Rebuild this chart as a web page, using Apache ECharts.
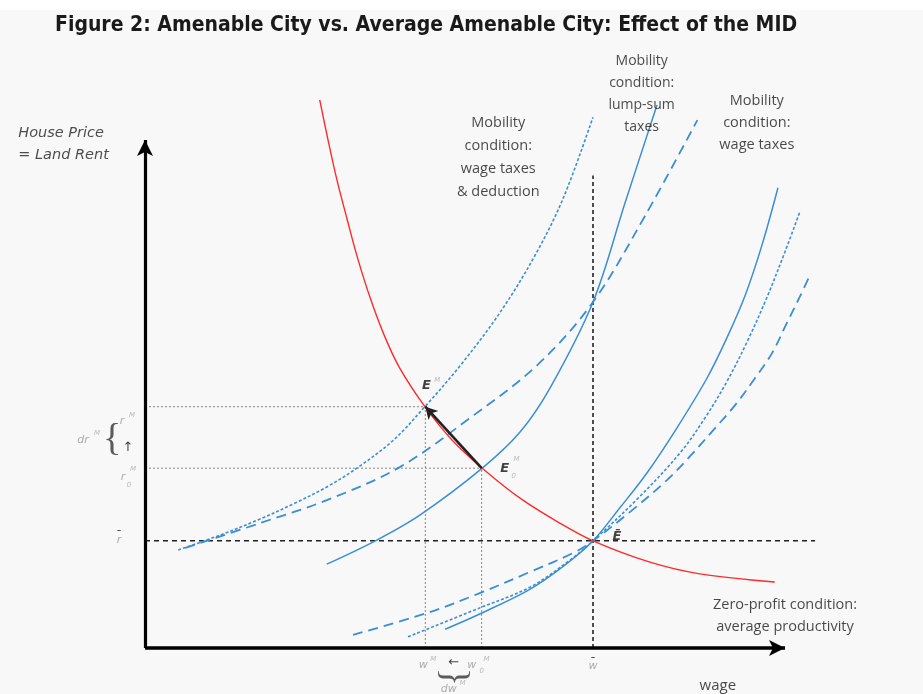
<!DOCTYPE html>
<html>
<head>
<meta charset="utf-8">
<script src="https://cdn.jsdelivr.net/npm/echarts@6/dist/echarts.min.js"></script>
<style>
html,body{margin:0;padding:0;background:#f8f8f8;}
#c{width:923px;height:694px;}
</style>
</head>
<body>
<div id="c"></div>
<script>
// ---------- key equilibrium values (wage, rent) ----------
const wBar = 70, rBar = 21.1;      // average amenable city equilibrium E
const wM = 43.8, rM = 47.5;        // E^M
const w0M = 52.6, r0M = 35.4;      // E0^M
const axisEndW = 100, axisEndR = 100;
const rBarLineEnd = 104.7, wBarLineTop = 93;

// ---------- curves: [wage, rent] ----------
const zeroProfit = [[27.3,107.9],[28.6,100.0],[30.0,92.1],[31.6,84.3],[33.3,76.4],[35.3,68.5],[37.5,61.2],[39.8,55.1],[43.8,47.4],[48.0,40.9],[52.7,35.4],[58.6,29.5],[64.8,24.6],[70.0,21.1],[78.9,16.9],[86.7,14.6],[98.4,13.0]];
// Mobility condition: wage taxes & deduction (through E^M)
const mobDeduction = [[5.2,19.3],[11.7,22.2],[18.0,25.4],[23.4,28.5],[28.4,31.7],[33.1,35.4],[38.8,40.9],[43.8,47.6],[49.2,55.5],[55.5,66.1],[60.9,77.2],[65.3,88.4],[70.0,104.5]];
// Mobility condition: lump-sum taxes (dashed)
const mobLumpDashed = [[6.3,19.7],[18.0,24.6],[28.4,29.1],[39.8,35.6],[50.8,45.3],[61.3,55.7],[70.0,68.1],[78.1,85.0],[86.3,103.9]];
// Mobility condition: lump-sum taxes (solid, through E0^M)
const mobLumpSolid = [[28.4,16.5],[36.3,21.3],[43.0,26.2],[52.7,35.4],[58.6,42.5],[63.3,51.2],[70.0,68.1],[75.0,87.6],[80.0,106.9]];
// Average city curves through E
const avgSolid = [[46.9,3.7],[52.3,6.7],[60.2,11.6],[65.6,16.3],[70.0,21.1],[74.2,27.6],[78.4,34.4],[83.1,43.3],[87.8,53.1],[90.9,61.0],[93.8,69.5],[96.4,79.3],[98.9,90.6]];
const avgDotted = [[41.1,2.2],[52.3,7.9],[60.2,12.0],[66.4,17.3],[70.0,21.1],[76.9,29.3],[83.6,38.4],[87.5,45.3],[90.9,52.4],[94.2,60.6],[97.2,69.1],[100.0,78.0],[102.3,85.8]];
const avgDashed = [[32.5,2.6],[44.1,6.9],[52.3,10.8],[60.2,15.0],[66.9,18.7],[70.0,21.1],[75.8,26.8],[81.6,33.1],[85.2,37.8],[88.8,42.9],[92.2,47.8],[95.3,53.1],[98.0,58.1],[100.3,64.0],[102.3,69.1],[103.9,73.4]];

// ---------- texts ----------
const titleText = 'Figure 2: Amenable City vs. Average Amenable City: Effect of the MID';
const yAxisTitle = 'House Price\n= Land Rent';
const xAxisTitle = 'wage';
const labelDeduction = 'Mobility\ncondition:\nwage taxes\n& deduction';
const labelLump = 'Mobility\ncondition:\nlump-sum\ntaxes';
const labelWage = 'Mobility\ncondition:\nwage taxes';
const labelZero = 'Zero-profit condition:\naverage productivity';

const BLUE = '#3a8ed6', RED = '#ff2b2b';

const chart = echarts.init(document.getElementById('c'), null, {renderer:'canvas'});

function curve(data, color, type, width) {
  return {type:'line', data:data, symbol:'none', smooth:0.35, silent:true,
    lineStyle:{color:color, width:width, type:type}, z:3};
}
function guide(a, b, color, type, width) {
  return {type:'line', data:[a,b], symbol:'none', silent:true,
    lineStyle:{color:color, width:width, type:type}, z:2};
}

const mathFont = 'DejaVu Sans';
const styles = {
  big: {fontFamily:mathFont, fontStyle:'italic', fontWeight:'bold', fontSize:13, color:'#111'},
  sup: {fontFamily:mathFont, fontStyle:'italic', fontSize:7, color:'#aaa'},
  var: {fontFamily:mathFont, fontStyle:'italic', fontSize:11, color:'#999'},
  bar: {fontFamily:mathFont, fontWeight:'bold', fontSize:11, color:'#222'},
  sym: {fontFamily:mathFont, fontSize:13, color:'#111'},
  brace: {fontFamily:'Liberation Serif', fontSize:38, color:'#333'}
};
// [anchor point, text, style, offset px, rotate]
const annots = [
  [[wM,rM],'E','big',[1,-21]],
  [[wM,rM],'M','sup',[12,-27]],
  [[w0M,r0M],'E','big',[23,0]],
  [[w0M,r0M],'M','sup',[35,-9]],
  [[w0M,r0M],'0','sup',[32,8]],
  [[wBar,rBar],'Ē','big',[24,-4]],
  [[0,rBar],'r','var',[-26,-1]],
  [[0,rBar],'¯','bar',[-26,-6]],
  [[0,rM],'r','var',[-23,14]],
  [[0,rM],'M','sup',[-13,8]],
  [[0,r0M],'r','var',[-22,9]],
  [[0,r0M],'M','sup',[-12,1]],
  [[0,r0M],'0','sup',[-16,17]],
  [[0,rM],'dr','var',[-62,33]],
  [[0,rM],'M','sup',[-48,26]],
  [[0,rM],'{','brace',[-33,33]],
  [[0,rM],'↑','sym',[-17,41]],
  [[wM,0],'w','var',[-2,17]],
  [[wM,0],'M','sup',[8,11]],
  [[w0M,0],'←','sym',[-28,15]],
  [[w0M,0],'w','var',[-10,17]],
  [[w0M,0],'0','sup',[0,23]],
  [[w0M,0],'M','sup',[5,11]],
  [[w0M,0],'{','brace',[-29,-27],90],
  [[w0M,0],'dw','var',[-33,41]],
  [[w0M,0],'M','sup',[-19,35]],
  [[wBar,0],'w','var',[0,18]],
  [[wBar,0],'¯','bar',[0,14]]
];

const labelFont = 'Open Sans';
// [anchor point, text, align, lineHeight, fontSize]
const textBlocks = [
  [[55.2,96.5], labelDeduction, 'center', 23, 14.5],
  [[77.6,109.0], labelLump, 'center', 22, 14],
  [[95.6,103.4], labelWage, 'center', 22, 14.5],
  [[100.0,6.3], labelZero, 'center', 22, 14.5],
  [[89.5,-7.5], xAxisTitle, 'center', 20, 15]
];

const annotSeries = {
  type:'scatter', symbolSize:0, silent:true, z:10,
  data: annots.map(a => ({value:a[0], label:{show:true, formatter:a[1], position:'inside',
      offset:a[3], rotate:a[4]||0, align:'center', verticalAlign:'middle', ...styles[a[2]]}}))
    .concat(textBlocks.map(t => ({value:t[0], label:{show:true, formatter:t[1], position:'inside',
      align:t[2], verticalAlign:'middle', lineHeight:t[3], fontSize:t[4], fontFamily:labelFont, color:'#1a1a1a'}})))
    .concat([{value:[-19.8,99.2], label:{show:true, formatter:yAxisTitle, position:'inside', align:'left',
      verticalAlign:'middle', lineHeight:22, fontSize:14.5, fontStyle:'italic', fontFamily:'DejaVu Sans', color:'#222'}}])
};

const arrowSeries = {
  type:'line', data:[], symbol:'none', silent:true, z:20,
  markLine:{
    silent:true, animation:false, label:{show:false},
    symbol:['none','arrow'],
    data:[
      [{coord:[0,0], lineStyle:{width:3.2,color:'#000',type:'solid'}, symbolSize:[12,16]},
       {coord:[0,axisEndR], symbolSize:[12,16]}],
      [{coord:[0,0], lineStyle:{width:3.6,color:'#000',type:'solid'}, symbolSize:[12,16]},
       {coord:[axisEndW,0], symbolSize:[12,16]}],
      [{coord:[w0M,r0M], lineStyle:{width:2.6,color:'#222',type:'solid'}, symbolSize:[10,12]},
       {coord:[wM,rM], symbolSize:[10,12]}]
    ]
  }
};

const option = {
  backgroundColor:'#f8f8f8',
  animation:false,
  title:{text:titleText, left:50, top:10, textStyle:{fontFamily:'DejaVu Sans Condensed', fontWeight:'bold', fontSize:21, color:'#1a1a1a'}},
  grid:{left:17, right:10, top:13, bottom:5.36},
  xAxis:{type:'value', min:-20, max:120, show:false},
  yAxis:{type:'value', min:-8, max:125, show:false},
  graphic:[{type:'rect', left:0, top:0, shape:{width:923, height:10}, style:{fill:'#ffffff'}, z:-1}],
  series:[
    guide([0,rBar],[rBarLineEnd,rBar],'#222',[5,4],1.4),
    guide([wBar,0],[wBar,wBarLineTop],'#222',[4,3],1.6),
    guide([0,rM],[wM,rM],'#888',[2,2],1),
    guide([0,r0M],[w0M,r0M],'#888',[2,2],1),
    guide([wM,0],[wM,rM],'#888',[2,2],1),
    guide([w0M,0],[w0M,r0M],'#888',[2,2],1),
    curve(mobDeduction, BLUE, [3,2], 1.6),
    curve(mobLumpDashed, BLUE, [10,6], 1.8),
    curve(mobLumpSolid, BLUE, 'solid', 1.5),
    curve(avgSolid, BLUE, 'solid', 1.5),
    curve(avgDotted, BLUE, [3,2], 1.6),
    curve(avgDashed, BLUE, [10,6], 1.8),
    Object.assign(curve(zeroProfit, RED, 'solid', 1.4), {z:4}),
    arrowSeries,
    annotSeries
  ]
};
chart.setOption(option);
</script>
</body>
</html>
